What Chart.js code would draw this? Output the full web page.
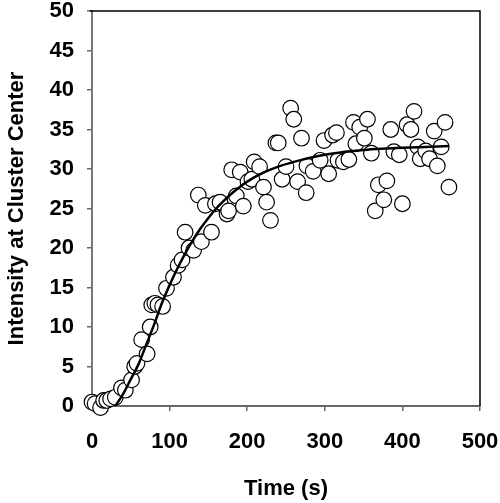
<!DOCTYPE html>
<html lang="en">
<head>
    <meta charset="UTF-8">
    <title>Intensity at Cluster Center</title>
    <script src="https://cdn.jsdelivr.net/npm/chart.js@4.4.0/dist/chart.umd.min.js"></script>
    <style>
        body { margin: 0; background: #fff; }
    </style>
</head>
<body>
    <canvas id="graph" width="500" height="503"></canvas>
    <script>
        // measured points
        const time = [0, 4, 11, 15, 19, 24, 30, 38, 43, 51, 55, 58, 64, 71, 75, 77, 81, 85, 91, 96,
            105, 111, 116, 120, 125, 131, 137, 141, 146, 154, 159, 165, 174, 176, 180, 186, 191, 195, 201, 206,
            209, 216, 221, 225, 230, 237, 240, 245, 250, 256, 260, 265, 270, 276, 277, 285, 294, 299, 305, 310,
            315, 317, 324, 331, 337, 340, 345, 351, 355, 360, 365, 369, 376, 380, 385, 389, 396, 400, 406, 411,
            415, 420, 423, 430, 435, 441, 445, 450, 455, 460];
        const intensity = [0.5, 0.3, -0.2, 0.7, 0.7, 0.9, 1.1, 2.3, 2.0, 3.3, 5.0, 5.4, 8.4, 6.6, 10.0, 12.8, 13.0, 12.8, 12.6, 14.9,
            16.3, 17.8, 18.5, 22.0, 20.0, 19.7, 26.7, 20.8, 25.4, 22.0, 25.6, 25.8, 24.3, 24.7, 29.9, 26.6, 29.6, 25.3, 28.4, 28.7,
            30.9, 30.3, 27.7, 25.8, 23.5, 33.3, 33.3, 28.7, 30.3, 37.7, 36.3, 28.4, 33.9, 27.0, 30.4, 29.7, 31.1, 33.6, 29.4, 34.3,
            34.6, 31.1, 30.9, 31.2, 35.9, 33.2, 35.3, 33.9, 36.3, 32.0, 24.7, 28.0, 26.1, 28.5, 35.0, 32.2, 31.8, 25.6, 35.6, 35.0,
            37.3, 32.8, 31.3, 32.3, 31.3, 34.8, 30.4, 32.8, 35.9, 27.7];

        // fitted curve
        const fitTime = [30, 40, 50, 60, 70, 80, 90, 100, 110, 120, 130, 140, 150, 160, 170, 180, 190, 200,
            220, 240, 260, 280, 300, 320, 340, 360, 380, 400, 430, 460];
        const fitValue = [0, 1.5, 3.4, 5.3, 7.8, 10.3, 13.0, 15.3, 17.4, 19.3, 21.0, 22.5, 23.8, 25.0, 26.0, 26.9, 27.7, 28.4,
            29.5, 30.3, 30.9, 31.4, 31.8, 32.1, 32.3, 32.5, 32.6, 32.7, 32.8, 32.9];

        const xTicks = [0, 100, 200, 300, 400, 500];

        const font = { family: "'Liberation Sans', Arial, sans-serif", size: 22, weight: 'bold' };
        const tickFont = { family: "'Liberation Sans', Arial, sans-serif", size: 22, weight: 'bold', lineHeight: 1 };

        const boxLines = {
            id: 'boxLines',
            afterDraw(chart) {
                const a = chart.chartArea;
                const c = chart.ctx;
                c.save();
                c.strokeStyle = '#000';
                c.lineWidth = 1.5;
                c.beginPath();
                c.moveTo(a.left - 2, a.top);
                c.lineTo(a.right, a.top);
                c.lineTo(a.right, a.bottom);
                c.stroke();
                c.restore();
            }
        };

        const points = time.map((t, i) => ({ x: t, y: intensity[i] }));
        const fit = fitTime.map((t, i) => ({ x: t, y: fitValue[i] }));

        const ctx = document.getElementById('graph').getContext('2d');
        new Chart(ctx, {
            type: 'scatter',
            data: {
                datasets: [
                    {
                        type: 'line',
                        data: fit,
                        borderColor: '#000',
                        borderWidth: 2.5,
                        pointRadius: 0,
                        fill: false,
                        cubicInterpolationMode: 'monotone',
                        order: 0
                    },
                    {
                        data: points,
                        pointStyle: 'circle',
                        pointRadius: 7.8,
                        borderWidth: 1.2,
                        borderColor: '#000',
                        backgroundColor: '#fff',
                        clip: false,
                        order: 1
                    }
                ]
            },
            options: {
                responsive: false,
                animation: false,
                layout: { padding: { top: 11, right: 20, left: 0, bottom: 0 } },
                plugins: { legend: { display: false }, tooltip: { enabled: false } },
                scales: {
                    x: {
                        type: 'linear',
                        min: 0,
                        max: 500,
                        afterBuildTicks: s => { s.ticks = xTicks.map(v => ({ value: v })); },
                        ticks: { font: tickFont, color: '#000', padding: 20, maxRotation: 0 },
                        grid: { drawOnChartArea: false, tickLength: 5, color: '#666', lineWidth: 1.5 },
                        border: { color: '#666', width: 2 },
                        title: { display: true, text: 'Time (s)', font: font, color: '#000', padding: { top: 0, bottom: 1 } },
                        afterFit: s => { s.height = 97; s.paddingLeft = 0; s.paddingRight = 0; }
                    },
                    y: {
                        min: 0,
                        max: 50,
                        ticks: { stepSize: 5, font: tickFont, color: '#000', padding: 13 },
                        grid: { drawOnChartArea: false, tickLength: 5, color: '#666', lineWidth: 1.5 },
                        border: { color: '#777', width: 2 },
                        title: { display: true, text: 'Intensity at Cluster Center', font: font, color: '#000', padding: { top: 4, bottom: 0 } },
                        afterFit: s => { s.width = 92; s.paddingTop = 0; s.paddingBottom = 0; }
                    }
                }
            },
            plugins: [boxLines]
        });
    </script>
</body>
</html>
